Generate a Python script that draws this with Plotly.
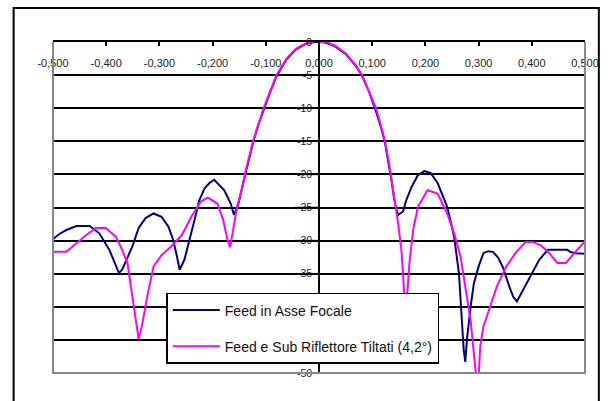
import plotly.graph_objects as go

# ---------------- data ----------------
x_ticks = [-0.5, -0.4, -0.3, -0.2, -0.1, 0.0, 0.1, 0.2, 0.3, 0.4, 0.5]
x_tick_labels = ["-0,500", "-0,400", "-0,300", "-0,200", "-0,100", "0,000",
                 "0,100", "0,200", "0,300", "0,400", "0,500"]
y_ticks = [-50, -45, -40, -35, -30, -25, -20, -15, -10, -5, 0]
y_tick_labels = ["-50", "-45", "-40", "-35", "-30", "-25", "-20", "-15", "-10", "-5", "0"]

name_blue = "Feed in Asse Focale"
name_pink = "Feed e Sub Riflettore Tiltati (4,2°)"

blue_x = [-0.502, -0.488, -0.475, -0.456, -0.431, -0.413, -0.394, -0.376, -0.370,
          -0.351, -0.339, -0.326, -0.311, -0.296, -0.283, -0.274, -0.267, -0.262,
          -0.253, -0.243, -0.234, -0.225, -0.215, -0.206, -0.197, -0.178, -0.166,
          -0.160, -0.152, -0.146, -0.141, -0.134, -0.124, -0.114, -0.104, -0.092,
          -0.080, -0.061, -0.043, -0.024, -0.008, 0.008, 0.020, 0.031, 0.050,
          0.069, 0.081, 0.094, 0.106, 0.116, 0.124, 0.130, 0.136, 0.141, 0.145,
          0.149, 0.158, 0.164, 0.174, 0.186, 0.198, 0.210, 0.223, 0.241, 0.254,
          0.263, 0.266, 0.269, 0.272, 0.275, 0.278, 0.285, 0.291, 0.300, 0.309,
          0.318, 0.327, 0.337, 0.346, 0.358, 0.365, 0.372, 0.383, 0.396, 0.414,
          0.430, 0.450, 0.467, 0.472, 0.482, 0.502]
blue_y = [-29.9, -29.0, -28.4, -27.8, -27.8, -28.9, -31.4, -34.9, -34.4,
          -30.9, -28.1, -26.6, -25.9, -26.4, -27.9, -29.9, -32.4, -34.4,
          -32.9, -29.9, -26.9, -23.9, -22.1, -21.3, -20.8, -22.4, -24.4,
          -26.1, -24.6, -22.5, -20.8, -18.5, -15.2, -12.5, -10.2, -7.6,
          -5.2, -2.6, -1.1, -0.25, 0.0, 0.0, -0.3, -0.7, -1.8,
          -3.6, -5.1, -7.5, -10.2, -12.7, -15.2, -17.8, -20.8, -23.5, -25.2,
          -26.1, -25.6, -23.9, -21.9, -20.1, -19.5, -19.8, -21.3, -24.9, -29.4,
          -34.9, -38.5, -43.5, -46.5, -48.3, -45.0, -40.0, -36.5, -33.9, -31.9,
          -31.6, -31.7, -32.6, -34.1, -37.0, -38.5, -39.2, -37.5, -35.5, -32.9,
          -31.4, -31.4, -31.4, -31.7, -31.9, -32.0]

pink_x = [-0.502, -0.475, -0.456, -0.438, -0.419, -0.401, -0.382, -0.370, -0.360,
          -0.351, -0.343, -0.339, -0.333, -0.323, -0.311, -0.296, -0.278, -0.258,
          -0.240, -0.222, -0.209, -0.191, -0.180, -0.172, -0.167, -0.161, -0.154,
          -0.144, -0.138, -0.131, -0.124, -0.114, -0.104, -0.092, -0.080, -0.061,
          -0.043, -0.024, -0.008, 0.008, 0.015, 0.031, 0.050, 0.069, 0.081,
          0.094, 0.107, 0.116, 0.124, 0.131, 0.137, 0.142, 0.149, 0.155, 0.160,
          0.163, 0.166, 0.170, 0.177, 0.186, 0.204, 0.223, 0.241, 0.254, 0.266,
          0.275, 0.285, 0.291, 0.296, 0.300, 0.303, 0.309, 0.322, 0.334, 0.352,
          0.371, 0.389, 0.402, 0.417, 0.433, 0.448, 0.464, 0.482, 0.502]
pink_y = [-31.7, -31.7, -30.4, -29.2, -28.1, -28.1, -29.4, -31.4, -33.4,
          -38.5, -43.0, -44.9, -43.0, -38.5, -33.9, -32.2, -30.9, -29.2,
          -26.4, -24.1, -23.5, -24.4, -26.9, -29.9, -31.0, -28.4, -24.9,
          -21.9, -19.5, -17.3, -15.0, -12.5, -10.0, -7.5, -5.0, -2.5,
          -1.0, -0.2, 0.0, 0.0, 0.0, -0.6, -1.7, -3.5, -5.0,
          -7.5, -10.0, -12.5, -15.0, -18.0, -21.0, -24.0, -27.5, -31.5, -37.7,
          -45.0, -38.0, -33.4, -28.4, -24.9, -22.4, -22.9, -25.9, -28.9, -32.4,
          -37.0, -42.0, -47.0, -51.0, -51.0, -46.0, -43.0, -40.0, -37.0, -33.9,
          -31.7, -30.2, -30.2, -30.7, -31.9, -33.4, -33.4, -31.7, -29.9]

# ---------------- figure ----------------
FONT = "Liberation Sans, Arial, sans-serif"
fig = go.Figure()
fig.add_trace(go.Scatter(x=blue_x, y=blue_y, mode="lines", name=name_blue,
                         legendgroup="a",
                         line=dict(color="#000080", width=2)))
fig.add_trace(go.Scatter(x=pink_x, y=pink_y, mode="lines", name=name_pink,
                         legendgroup="b",
                         line=dict(color="#FF00FF", width=2)))

fig.update_layout(
    width=611, height=401,
    margin=dict(l=53, r=18, t=42, b=28),
    paper_bgcolor="white", plot_bgcolor="white",
    font=dict(family=FONT, size=11, color="#222"),
    showlegend=True,
    legend=dict(x=0.213, y=0.2417, xanchor="left", yanchor="top",
                bgcolor="white", bordercolor="black", borderwidth=1.5,
                font=dict(family=FONT, size=14, color="#111"),
                traceorder="grouped", tracegroupgap=15, itemwidth=47),
    xaxis=dict(range=[-0.5, 0.5], side="top", anchor="y",
               tickvals=x_ticks, ticktext=x_tick_labels,
               ticks="inside", ticklen=4, tickcolor="black", tickwidth=1.5,
               ticklabelposition="inside", ticklabelstandoff=13,
               ticklabeloverflow="allow",
               showline=True, linecolor="black", linewidth=2,
               showgrid=False, zeroline=False,
               tickfont=dict(size=11, color="#222")),
    yaxis=dict(range=[-50, 0], anchor="free", position=0.5,
               tickvals=y_ticks, ticktext=y_tick_labels,
               ticks="outside", ticklen=4, tickcolor="black", tickwidth=1.5,
               showline=True, linecolor="black", linewidth=1.5,
               showgrid=True, gridcolor="black", gridwidth=1.5,
               zeroline=False,
               tickfont=dict(size=10.5, color="#222")),
)

# plot-area border (grey, left/bottom/right) and outer chart border
fig.add_shape(type="path", xref="paper", yref="paper",
              path="M0,1 L0,0 L1,0 L1,1", line=dict(color="#888", width=2),
              layer="above")
fig.add_shape(type="rect", xref="paper", yref="paper",
              x0=-0.074, x1=1.026, y0=-0.12, y1=1.1027,
              line=dict(color="black", width=2), layer="above")
# gridlines striking through the y tick labels (as in the original)
for v in y_ticks[1:-1]:
    fig.add_shape(type="line", xref="x", yref="y", x0=-0.045, x1=0.0,
                  y0=v, y1=v, line=dict(color="black", width=1.5), layer="above")

fig.write_html("out.html")
